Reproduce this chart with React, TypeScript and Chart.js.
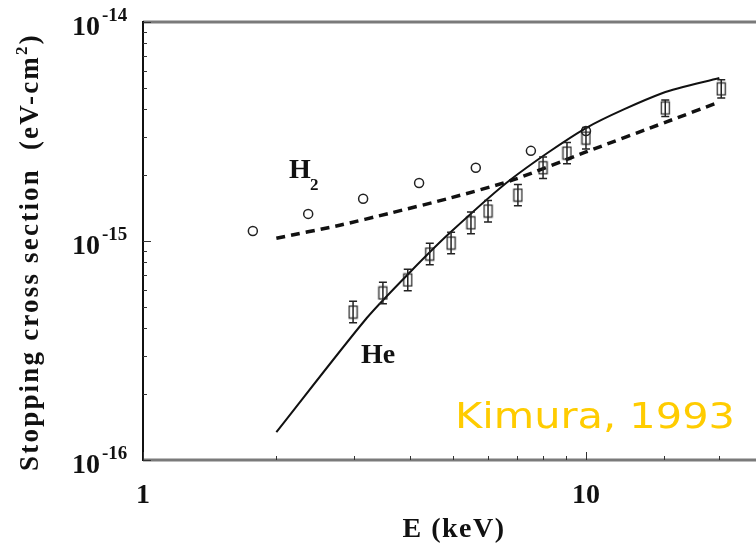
import React, { useEffect, useRef } from "react";
import { Chart, registerables } from "chart.js";

Chart.register(...registerables);

// He theoretical curve (solid)
const heCurveE = [2.0, 3.2, 4.01, 4.93, 6.74, 10.0, 14.9, 20.0];
const heCurveS = [1.34e-16, 4.45e-16, 7.22e-16, 1.09e-15, 1.9e-15, 3.28e-15, 4.74e-15, 5.55e-15];

// H2 theoretical curve (dashed)
const h2CurveE = [2.0, 2.78, 3.61, 4.93, 6.84, 10.0, 15.2, 20.0];
const h2CurveS = [1.03e-15, 1.18e-15, 1.34e-15, 1.57e-15, 1.9e-15, 2.55e-15, 3.5e-15, 4.31e-15];

// H2 measurements (open circles)
const h2PointsE = [1.77, 2.36, 3.14, 4.2, 5.64, 7.51, 10.0];
const h2PointsS = [1.11e-15, 1.33e-15, 1.56e-15, 1.84e-15, 2.16e-15, 2.58e-15, 3.18e-15];

// He measurements (open squares with error bars)
const hePointsE = [2.98, 3.48, 3.96, 4.44, 4.96, 5.5, 6.01, 7.02, 8.0, 9.06, 10.0, 15.1, 20.2];
const hePointsS = [4.74e-16, 5.79e-16, 6.64e-16, 8.72e-16, 9.79e-16, 1.21e-15, 1.37e-15, 1.62e-15, 2.16e-15, 2.52e-15, 2.95e-15, 4.05e-15, 4.95e-15];
const heErrLow = [4.23e-16, 5.17e-16, 5.93e-16, 7.79e-16, 8.74e-16, 1.08e-15, 1.22e-15, 1.45e-15, 1.93e-15, 2.25e-15, 2.63e-15, 3.7e-15, 4.5e-15];
const heErrHigh = [5.31e-16, 6.48e-16, 7.44e-16, 9.77e-16, 1.096e-15, 1.355e-15, 1.53e-15, 1.81e-15, 2.42e-15, 2.82e-15, 3.3e-15, 4.4e-15, 5.45e-15];

// Axis ticks / labels
const xMin = 1;
const xMax = 24.2;
const yMin = 1e-16;
const yMax = 1e-14;
const xTickValues = [1, 10];
const xTickLabels = ["1", "10"];
const xMinorTicks = [2, 3, 4, 5, 6, 7, 8, 9, 15, 20];
const yTickValues = [1e-14, 1e-15, 1e-16];
const yTickExponents = ["-14", "-15", "-16"];
const yMinorTicks = [
  2e-16, 3e-16, 4e-16, 5e-16, 6e-16, 7e-16, 8e-16, 9e-16,
  2e-15, 3e-15, 4e-15, 5e-15, 6e-15, 7e-15, 8e-15, 9e-15,
];

const xTitle = "E (keV)";
const yTitleMain = "Stopping cross section  (eV-cm";
const yTitleSup = "2";
const yTitleEnd = ")";
const h2Label = "H";
const h2Sub = "2";
const heLabel = "He";
const credit = "Kimura, 1993";

const SERIF = '"Liberation Serif", "Times New Roman", serif';

const toXY = (xs: number[], ys: number[]) => xs.map((x, i) => ({ x, y: ys[i] }));

export default function App() {
  const ref = useRef<HTMLCanvasElement>(null);

  useEffect(() => {
    const canvas = ref.current;
    if (!canvas) return;

    const sq = document.createElement("canvas");
    sq.width = 11;
    sq.height = 15;
    const sc = sq.getContext("2d")!;
    sc.strokeStyle = "#2a2a2a";
    sc.lineWidth = 1.3;
    sc.strokeRect(1.5, 1.5, 8, 12);

    const overlay = {
      id: "overlay",
      afterDatasetsDraw(chart: any) {
        const ctx = chart.ctx as CanvasRenderingContext2D;
        const xs = chart.scales.x;
        const ys = chart.scales.y;
        ctx.save();
        ctx.strokeStyle = "#222";
        ctx.lineWidth = 1.5;
        for (let i = 0; i < hePointsE.length; i++) {
          const x = xs.getPixelForValue(hePointsE[i]);
          const y1 = ys.getPixelForValue(heErrLow[i]);
          const y2 = ys.getPixelForValue(heErrHigh[i]);
          ctx.beginPath();
          ctx.moveTo(x, y1);
          ctx.lineTo(x, y2);
          ctx.moveTo(x - 4, y1);
          ctx.lineTo(x + 4, y1);
          ctx.moveTo(x - 4, y2);
          ctx.lineTo(x + 4, y2);
          ctx.stroke();
        }
        ctx.restore();
      },
      afterDraw(chart: any) {
        const ctx = chart.ctx as CanvasRenderingContext2D;
        const { left, right, top, bottom } = chart.chartArea;
        const xs = chart.scales.x;
        const ys = chart.scales.y;
        ctx.save();

        // frame
        ctx.strokeStyle = "#7a7a7a";
        ctx.lineWidth = 3;
        ctx.beginPath();
        ctx.moveTo(left, top);
        ctx.lineTo(right + 5, top);
        ctx.moveTo(left, bottom);
        ctx.lineTo(right + 5, bottom);
        ctx.stroke();
        ctx.strokeStyle = "#111";
        ctx.lineWidth = 2;
        ctx.beginPath();
        ctx.moveTo(left, top - 1);
        ctx.lineTo(left, bottom + 1);
        ctx.stroke();

        // ticks (inside)
        ctx.strokeStyle = "#333";
        ctx.lineWidth = 1;
        ctx.beginPath();
        for (const v of yMinorTicks) {
          const y = Math.round(ys.getPixelForValue(v)) + 0.5;
          ctx.moveTo(left, y);
          ctx.lineTo(left + 4, y);
        }
        for (const v of yTickValues) {
          const y = Math.round(ys.getPixelForValue(v)) + 0.5;
          ctx.moveTo(left, y);
          ctx.lineTo(left + 8, y);
        }
        for (const v of xMinorTicks) {
          const x = Math.round(xs.getPixelForValue(v)) + 0.5;
          ctx.moveTo(x, bottom);
          ctx.lineTo(x, bottom - 4);
        }
        for (const v of xTickValues) {
          const x = Math.round(xs.getPixelForValue(v)) + 0.5;
          ctx.moveTo(x, bottom);
          ctx.lineTo(x, bottom - 8);
        }
        ctx.stroke();

        ctx.fillStyle = "#111";
        ctx.textBaseline = "alphabetic";

        // y tick labels
        yTickValues.forEach((v, i) => {
          const y = ys.getPixelForValue(v);
          ctx.font = `bold 28px ${SERIF}`;
          ctx.textAlign = "right";
          ctx.fillText("10", left - 43, y + 13);
          ctx.font = `bold 19px ${SERIF}`;
          ctx.textAlign = "left";
          ctx.fillText(yTickExponents[i], left - 41, y - 1);
        });

        // x tick labels
        ctx.font = `bold 28px ${SERIF}`;
        ctx.textAlign = "center";
        xTickValues.forEach((v, i) => {
          const x = xs.getPixelForValue(v);
          ctx.fillText(xTickLabels[i], x, bottom + 43);
        });

        // x title
        (ctx as any).letterSpacing = "1.5px";
        ctx.font = `bold 28px ${SERIF}`;
        ctx.textAlign = "center";
        ctx.fillText(xTitle, 454, 537);

        // y title (rotated)
        (ctx as any).letterSpacing = "2.2px";
        ctx.save();
        ctx.translate(38, 252);
        ctx.rotate(-Math.PI / 2);
        ctx.textAlign = "left";
        ctx.font = `bold 27px ${SERIF}`;
        const w1 = ctx.measureText(yTitleMain).width;
        const w3 = ctx.measureText(yTitleEnd).width;
        ctx.font = `bold 17px ${SERIF}`;
        const w2 = ctx.measureText(yTitleSup).width;
        const total = w1 + w2 + w3;
        let sx = -total / 2;
        ctx.font = `bold 27px ${SERIF}`;
        ctx.fillText(yTitleMain, sx, 0);
        sx += w1;
        ctx.font = `bold 17px ${SERIF}`;
        ctx.fillText(yTitleSup, sx, -11);
        sx += w2;
        ctx.font = `bold 27px ${SERIF}`;
        ctx.fillText(yTitleEnd, sx, 0);
        ctx.restore();
        (ctx as any).letterSpacing = "0px";

        // series labels
        ctx.textAlign = "left";
        ctx.font = `bold 28px ${SERIF}`;
        ctx.fillText(h2Label, 289, 178);
        ctx.font = `bold 17px ${SERIF}`;
        ctx.fillText(h2Sub, 310, 190);
        ctx.font = `bold 28px ${SERIF}`;
        ctx.fillText(heLabel, 361, 363);

        // credit (stretched to the reference width)
        ctx.fillStyle = "#FFCC00";
        ctx.font = `35px "DejaVu Sans", Verdana, sans-serif`;
        ctx.textAlign = "left";
        const cw = ctx.measureText(credit).width;
        ctx.save();
        ctx.translate(455, 428);
        ctx.scale(280 / cw, 1);
        ctx.fillText(credit, 0, 0);
        ctx.restore();

        ctx.restore();
      },
    };

    const chart = new Chart(canvas, {
      type: "scatter",
      data: {
        datasets: [
          {
            label: "He theory",
            data: toXY(heCurveE, heCurveS),
            showLine: true,
            borderColor: "#111",
            borderWidth: 2,
            pointRadius: 0,
            tension: 0.25,
          },
          {
            label: "H2 theory",
            data: toXY(h2CurveE, h2CurveS),
            showLine: true,
            borderColor: "#111",
            borderWidth: 3.5,
            borderDash: [9, 6],
            pointRadius: 0,
            tension: 0.25,
          },
          {
            label: "H2",
            data: toXY(h2PointsE, h2PointsS),
            showLine: false,
            pointStyle: "circle",
            pointRadius: 4.5,
            borderColor: "#222",
            borderWidth: 1.5,
            backgroundColor: "rgba(255,255,255,0)",
          },
          {
            label: "He",
            data: toXY(hePointsE, hePointsS),
            showLine: false,
            pointStyle: sq as any,
            pointRadius: 6,
          },
        ],
      },
      options: {
        animation: false,
        responsive: false,
        maintainAspectRatio: false,
        layout: { autoPadding: false, padding: { left: 143, top: 22, right: 0, bottom: 83 } },
        plugins: { legend: { display: false }, tooltip: { enabled: false } },
        scales: {
          x: { type: "logarithmic", min: xMin, max: xMax, display: false },
          y: { type: "logarithmic", min: yMin, max: yMax, display: false },
        },
      },
      plugins: [overlay],
    } as any);

    return () => chart.destroy();
  }, []);

  return (
    <div style={{ position: "fixed", left: 0, top: 0, width: 756, height: 543, background: "#fff" }}>
      <canvas ref={ref} width={756} height={543} style={{ display: "block" }} />
    </div>
  );
}
